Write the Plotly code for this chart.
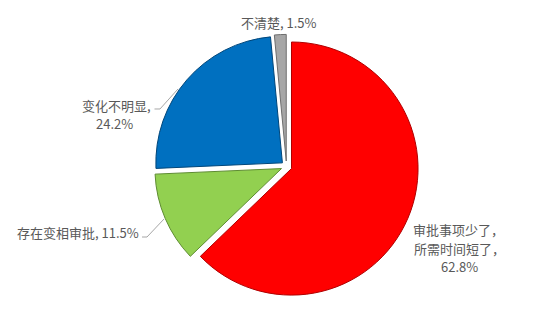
import plotly.graph_objects as go

categories = ["审批事项少了，所需时间短了", "存在变相审批", "变化不明显", "不清楚"]
values = [62.8, 11.5, 24.2, 1.5]
label_lines = [
    ["审批事项少了，", "所需时间短了，", "62.8%"],
    ["存在变相审批, 11.5%"],
    ["变化不明显,", "24.2%"],
    ["不清楚, 1.5%"],
]
colors = ["#FF0000", "#92D050", "#0070C0", "#A6A6A6"]
edge_colors = ["#B00000", "#5E8C32", "#00467A", "#6E6E6E"]

W, H = 550, 313

def px(x, y):
    return x / W, 1 - y / H

fig = go.Figure()
fig.add_trace(go.Pie(
    labels=categories,
    values=values,
    sort=False,
    direction="clockwise",
    rotation=0,
    pull=[0.043] * len(values),
    marker=dict(colors=colors, line=dict(color=edge_colors, width=1)),
    textinfo="none",
    hoverinfo="label+percent",
    showlegend=False,
    domain=dict(x=[0.2809, 0.7609], y=[0.0466, 0.890]),
))

line_pos = [
    [(458, 229), (460, 248), (460, 266)],
    [(77.5, 232)],
    [(116, 105), (114, 123)],
    [(279, 22)],
]
for lines, poss in zip(label_lines, line_pos):
    for t, (x, y) in zip(lines, poss):
        xp, yp = px(x, y)
        fig.add_annotation(
            x=xp, y=yp, xref="paper", yref="paper", text=t, showarrow=False,
            xanchor="center", yanchor="middle", align="center",
            font=dict(family="Noto Sans CJK SC, Microsoft YaHei, sans-serif", size=13, color="#595959"),
        )

leaders = [
    [(142, 237), (147, 237), (164, 219)],
    [(154.5, 109), (160, 109), (178, 89)],
]
for pts in leaders:
    path = ""
    for i, (x, y) in enumerate(pts):
        xp, yp = px(x, y)
        path += ("M " if i == 0 else " L ") + f"{xp:.4f},{yp:.4f}"
    fig.add_shape(type="path", path=path, xref="paper", yref="paper",
                  line=dict(color="#A6A6A6", width=1))

fig.update_layout(
    width=W, height=H,
    margin=dict(l=0, r=0, t=0, b=0),
    paper_bgcolor="white", plot_bgcolor="white",
)
fig.write_html("out.html")
